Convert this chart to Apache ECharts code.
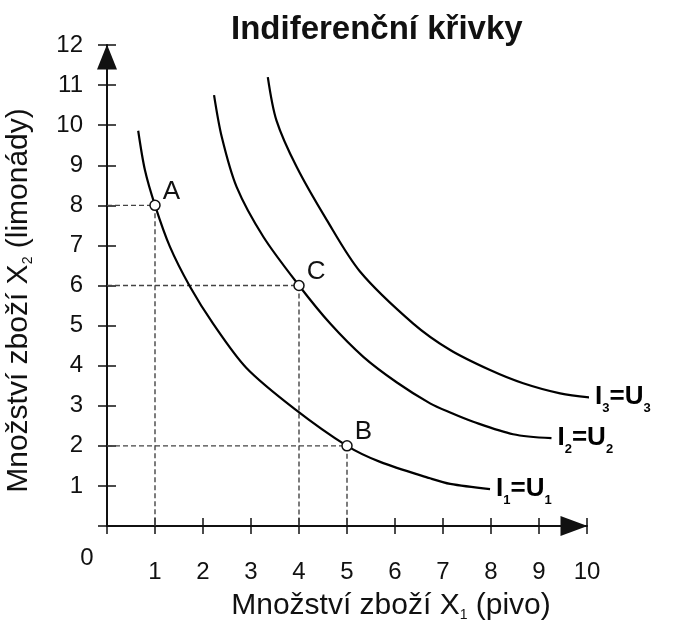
<!DOCTYPE html>
<html lang="cs">
<head>
    <meta http-equiv="Content-Type" content="text/html; charset=UTF-8">
    <script src="https://cdn.jsdelivr.net/npm/echarts@6/dist/echarts.min.js"></script>
    <style>
        html, body { margin: 0; padding: 0; background: #fff; }
    </style>
</head>
<body>
<div id="main" style="width:687px;height:620px;"></div>
<script type="text/javascript">
    // popisky os
    var xTickLabels = ['0', '1', '2', '3', '4', '5', '6', '7', '8', '9', '10'];
    var yTickLabels = ['', '1', '2', '3', '4', '5', '6', '7', '8', '9', '10', '11', '12'];

    // indiferenční křivky [x1, x2]
    var curveI1 = [[0.65, 9.86], [0.79, 8.88], [1, 8], [1.31, 6.97], [1.73, 5.97], [2.21, 5.05], [2.9, 3.95],
        [3.9, 2.93], [5, 2], [5.69, 1.6], [6.73, 1.19], [7.15, 1.05], [7.98, 0.92]];
    var curveI2 = [[2.23, 10.75], [2.39, 9.71], [2.7, 8.46], [3.26, 7.21], [4, 6], [4.65, 5.05], [5.34, 4.22],
        [6.04, 3.58], [6.73, 3.06], [7.15, 2.83], [7.63, 2.6], [8.46, 2.29], [9.26, 2.19]];
    var curveI3 = [[3.35, 11.2], [3.53, 10.12], [3.95, 8.96], [4.58, 7.63], [5.27, 6.35], [6.38, 5.05],
        [7.15, 4.39], [7.98, 3.89], [8.67, 3.56], [9.44, 3.31], [10.27, 3.18]];
    var curveNames = ['1', '2', '3'];

    // body A, B, C
    var pointNames = ['A', 'B', 'C'];
    var pointValues = [[1, 8], [5, 2], [4, 6]];

    var font = 'Liberation Sans, Arial, sans-serif';
    var ink = '#111';

    var myChart = echarts.init(document.getElementById('main'), null, {renderer: 'canvas'});

    function curveSeries(data, idx) {
        return {
            type: 'line',
            data: data,
            smooth: 0.3,
            symbol: 'none',
            clip: false,
            z: 5,
            lineStyle: {color: '#000', width: 2.2},
            endLabel: {
                show: true,
                distance: 6,
                formatter: '{b|I}{s|' + curveNames[idx] + '}{b|=U}{s|' + curveNames[idx] + '}',
                rich: {
                    b: {fontSize: 26, fontWeight: 'bold', fontFamily: font, color: '#000'},
                    s: {fontSize: 13, fontWeight: 'bold', fontFamily: font, color: '#000', padding: [22, 0, 0, 0]}
                }
            }
        };
    }

    // přerušované čáry k osám
    var guideSeries = [];
    for (var i = 0; i < pointValues.length; i++) {
        var p = pointValues[i];
        guideSeries.push({
            type: 'line',
            data: [[0, p[1]], p, [p[0], 0]],
            symbol: 'none',
            z: 3,
            lineStyle: {color: '#444', width: 1.4, type: [5, 3]}
        });
    }

    var pointData = [];
    for (var j = 0; j < pointValues.length; j++) {
        pointData.push({name: pointNames[j], value: pointValues[j]});
    }

    var option = {
        animation: false,
        title: {
            text: 'Indiferenční křivky',
            left: 226,
            top: 8,
            textStyle: {fontSize: 33, fontWeight: 'bold', fontFamily: font, color: ink}
        },
        grid: {left: 107, right: 100, top: 45, bottom: 94, outerBoundsMode: 'none'},
        xAxis: [{
            type: 'value',
            min: 0, max: 10, interval: 1,
            name: 'Množství zboží X{s|1} (pivo)',
            nameLocation: 'middle',
            nameGap: 64,
            nameTextStyle: {
                fontSize: 30, fontFamily: font, color: ink, padding: [0, 0, 0, 88],
                rich: {s: {fontSize: 14, fontFamily: font, color: ink, padding: [18, 0, 0, 0]}}
            },
            axisLine: {
                lineStyle: {color: ink, width: 2},
                symbol: ['none', 'triangle'],
                symbolSize: [20, 27],
                symbolOffset: [0, -13]
            },
            axisTick: {length: 8, lineStyle: {color: ink, width: 1.5}},
            axisLabel: {
                fontSize: 24, fontFamily: font, color: ink, margin: 20,
                formatter: function (v) {
                    return v === 0 ? '{z|' + xTickLabels[0] + '}' : '{n|' + xTickLabels[v] + '}';
                },
                rich: {
                    z: {fontSize: 24, fontFamily: font, color: ink, padding: [0, 40, 0, 0]},
                    n: {fontSize: 24, fontFamily: font, color: ink, padding: [14, 0, 0, 0]}
                }
            },
            splitLine: {show: false}
        }, {
            type: 'value',
            position: 'bottom',
            min: 0, max: 10, interval: 1,
            axisLine: {show: false},
            axisTick: {inside: true, length: 8, lineStyle: {color: ink, width: 1.5}},
            axisLabel: {show: false},
            splitLine: {show: false}
        }],
        yAxis: [{
            type: 'value',
            min: 0, max: 12, interval: 1,
            name: 'Množství zboží X{s|2} (limonády)',
            nameLocation: 'middle',
            nameRotate: 90,
            nameGap: 72,
            nameTextStyle: {
                fontSize: 30, fontFamily: font, color: ink, padding: [0, 30, 0, 0],
                rich: {s: {fontSize: 14, fontFamily: font, color: ink, padding: [18, 0, 0, 0]}}
            },
            axisLine: {
                lineStyle: {color: ink, width: 2},
                symbol: ['none', 'triangle'],
                symbolSize: [20, 25],
                symbolOffset: [0, -12]
            },
            axisTick: {length: 9, lineStyle: {color: ink, width: 1.5}},
            axisLabel: {
                fontSize: 24, fontFamily: font, color: ink, margin: 24,
                formatter: function (v) { return yTickLabels[v]; }
            },
            splitLine: {show: false}
        }, {
            type: 'value',
            position: 'left',
            min: 0, max: 12, interval: 1,
            axisLine: {show: false},
            axisTick: {inside: true, length: 9, lineStyle: {color: ink, width: 1.5}},
            axisLabel: {show: false},
            splitLine: {show: false}
        }],
        series: guideSeries.concat([
            curveSeries(curveI1, 0),
            curveSeries(curveI2, 1),
            curveSeries(curveI3, 2),
            {
                type: 'scatter',
                data: pointData,
                symbol: 'circle',
                symbolSize: 10,
                z: 10,
                itemStyle: {color: '#fff', borderColor: '#111', borderWidth: 1.5, opacity: 1},
                label: {
                    show: true,
                    position: 'right',
                    distance: 2,
                    offset: [0, -14],
                    formatter: '{b}',
                    fontSize: 26, fontFamily: font, color: ink
                }
            }
        ])
    };

    myChart.setOption(option);
</script>
</body>
</html>
